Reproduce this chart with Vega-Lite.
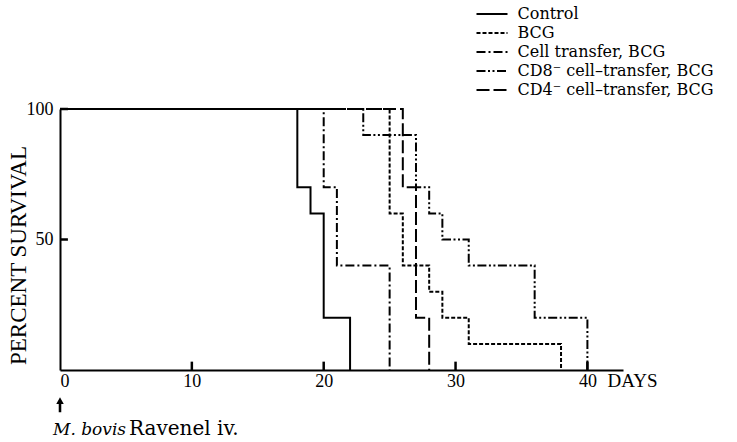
{
  "$schema": "https://vega.github.io/schema/vega-lite/v6.json",
  "autosize": "none",
  "width": 563,
  "height": 261,
  "padding": {"left": 60, "top": 109, "right": 114, "bottom": 72},
  "background": "white",
  "config": {
    "view": {"stroke": null},
    "axis": {"grid": false, "domainColor": "black", "domainWidth": 2, "ticks": false, "tickSize": 0, "labelFont": "Liberation Serif", "labelFontSize": 18, "labelColor": "black", "titleColor": "black", "titleFont": "Liberation Serif", "titleFontWeight": "normal"}
  },
  "datasets": {
    "survival": [
      {"group": "Control", "day": 0, "survival": 100},
      {"group": "Control", "day": 18, "survival": 70},
      {"group": "Control", "day": 19, "survival": 60},
      {"group": "Control", "day": 20, "survival": 20},
      {"group": "Control", "day": 22, "survival": 0},
      {"group": "BCG", "day": 0, "survival": 100},
      {"group": "BCG", "day": 25, "survival": 60},
      {"group": "BCG", "day": 26, "survival": 40},
      {"group": "BCG", "day": 28, "survival": 30},
      {"group": "BCG", "day": 29, "survival": 20},
      {"group": "BCG", "day": 31, "survival": 10},
      {"group": "BCG", "day": 38, "survival": 0},
      {"group": "Cell transfer, BCG", "day": 0, "survival": 100},
      {"group": "Cell transfer, BCG", "day": 20, "survival": 70},
      {"group": "Cell transfer, BCG", "day": 21, "survival": 40},
      {"group": "Cell transfer, BCG", "day": 25, "survival": 0},
      {"group": "CD8⁻ cell–transfer, BCG", "day": 0, "survival": 100},
      {"group": "CD8⁻ cell–transfer, BCG", "day": 23, "survival": 90},
      {"group": "CD8⁻ cell–transfer, BCG", "day": 27, "survival": 70},
      {"group": "CD8⁻ cell–transfer, BCG", "day": 28, "survival": 60},
      {"group": "CD8⁻ cell–transfer, BCG", "day": 29, "survival": 50},
      {"group": "CD8⁻ cell–transfer, BCG", "day": 31, "survival": 40},
      {"group": "CD8⁻ cell–transfer, BCG", "day": 36, "survival": 20},
      {"group": "CD8⁻ cell–transfer, BCG", "day": 40, "survival": 0},
      {"group": "CD4⁻ cell–transfer, BCG", "day": 0, "survival": 100},
      {"group": "CD4⁻ cell–transfer, BCG", "day": 26, "survival": 70},
      {"group": "CD4⁻ cell–transfer, BCG", "day": 27, "survival": 20},
      {"group": "CD4⁻ cell–transfer, BCG", "day": 28, "survival": 0}
    ],
    "note": [{"label": "M. bovis", "rest": "Ravenel iv."}]
  },
  "layer": [
    {
      "data": {"name": "survival"},
      "mark": {"type": "line", "interpolate": "step-after", "strokeWidth": 2, "color": "black", "clip": false},
      "encoding": {
        "x": {"field": "day", "type": "quantitative", "scale": {"domain": [0, 42.7], "nice": false, "zero": false},
          "axis": {"values": [0, 10, 20, 30, 40], "labelPadding": 2, "title": "DAYS", "titleX": 547, "titleY": 16, "titleAlign": "left", "titleBaseline": "alphabetic", "titleFontSize": 19, "titleAnchor": null}},
        "y": {"field": "survival", "type": "quantitative", "scale": {"domain": [0, 100], "nice": false},
          "axis": {"values": [50, 100], "labelPadding": 7, "labelBaseline": "middle", "title": "PERCENT SURVIVAL", "titleX": -35, "titleY": 146, "titleAlign": "center", "titleBaseline": "alphabetic", "titleFontSize": 23, "titleAngle": 270}},
        "strokeDash": {"field": "group", "type": "nominal",
          "scale": {"domain": ["Control", "BCG", "Cell transfer, BCG", "CD8⁻ cell–transfer, BCG", "CD4⁻ cell–transfer, BCG"],
                    "range": [[1, 0], [4, 2], [9, 3, 2, 3], [9, 2.5, 2, 2.5, 2, 2.5], [13, 4]]},
          "legend": {"orient": "none", "legendX": 424, "legendY": -103, "title": null, "symbolType": "M-3.1,0L3.1,0", "symbolSize": 100, "symbolStrokeWidth": 2, "symbolStrokeColor": "black", "labelFont": "DejaVu Serif", "labelFontSize": 16, "labelColor": "black", "labelOffset": 17.5, "rowPadding": 3, "labelLimit": 300, "padding": 0}}
      }
    },
    {
      "data": {"values": [{"tick": 10, "base": 0, "tip": 3.2}, {"tick": 20, "base": 0, "tip": 3.2}, {"tick": 30, "base": 0, "tip": 3.2}, {"tick": 40, "base": 0, "tip": 3.2}]},
      "mark": {"type": "rule", "strokeWidth": 2.5, "color": "black", "opacity": 1},
      "encoding": {
        "x": {"field": "tick", "type": "quantitative"},
        "y": {"field": "base", "type": "quantitative"},
        "y2": {"field": "tip"}
      }
    },
    {
      "data": {"values": [{"tick": 50, "base": 0, "tip": 0.6}, {"tick": 100, "base": 0, "tip": 0.6}]},
      "mark": {"type": "rule", "strokeWidth": 2.5, "color": "black", "opacity": 1},
      "encoding": {
        "y": {"field": "tick", "type": "quantitative"},
        "x": {"field": "base", "type": "quantitative"},
        "x2": {"field": "tip"}
      }
    },
    {
      "data": {"name": "note"},
      "mark": {"type": "point", "shape": "M0,-1L0.5,-0.1L0.17,-0.1L0.17,1L-0.17,1L-0.17,-0.1L-0.5,-0.1Z", "size": 225, "filled": true, "color": "black", "opacity": 1, "strokeWidth": 0},
      "encoding": {
        "x": {"datum": 0, "type": "quantitative"},
        "y": {"datum": -13.3, "type": "quantitative"}
      }
    },
    {
      "data": {"name": "note"},
      "mark": {"type": "text", "font": "DejaVu Serif", "fontStyle": "italic", "fontSize": 17, "align": "left", "baseline": "alphabetic", "dx": -7, "color": "black"},
      "encoding": {
        "x": {"datum": 0, "type": "quantitative"},
        "y": {"datum": -24.9, "type": "quantitative"},
        "text": {"field": "label"}
      }
    },
    {
      "data": {"name": "note"},
      "mark": {"type": "text", "font": "DejaVu Serif", "fontSize": 20, "align": "left", "baseline": "alphabetic", "dx": 69, "color": "black"},
      "encoding": {
        "x": {"datum": 0, "type": "quantitative"},
        "y": {"datum": -24.9, "type": "quantitative"},
        "text": {"field": "rest"}
      }
    }
  ]
}
